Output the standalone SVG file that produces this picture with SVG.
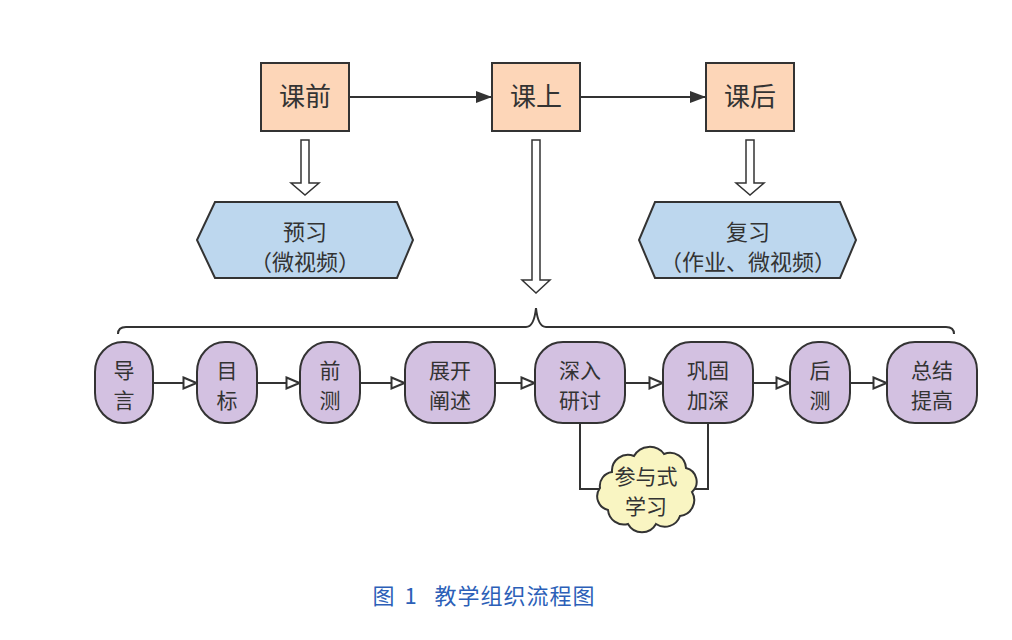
<svg xmlns="http://www.w3.org/2000/svg" width="1012" height="640" viewBox="0 0 1012 640">
<defs>
<style>
text{font-family:"Noto Sans CJK SC","Noto Sans",sans-serif;fill:#333;text-anchor:middle}
.top rect{fill:#fdd6b8;stroke:#333;stroke-width:2}
.top text{font-size:26px}
.hex polygon{fill:#bdd7ee;stroke:#333;stroke-width:2}
.hex text{font-size:22px}
.step rect{fill:#d3c1e1;stroke:#333;stroke-width:2}
.step text{font-size:21px}
.line{fill:none;stroke:#333;stroke-width:2}
.hollow{fill:#fff;stroke:#333;stroke-width:1.5}
</style>
<marker id="fa" viewBox="0 0 16 12" refX="16" refY="6" markerWidth="16" markerHeight="12" markerUnits="userSpaceOnUse" orient="auto"><path d="M0,0 L16,6 L0,12 Z" fill="#333"/></marker>
<marker id="oa" viewBox="0 0 16 14" refX="15" refY="7" markerWidth="16" markerHeight="14" markerUnits="userSpaceOnUse" orient="auto"><path d="M1.5,1.5 L14.5,7 L1.5,12.5 Z" fill="#fff" stroke="#333" stroke-width="2"/></marker>
</defs>
<rect width="1012" height="640" fill="#fff"/>

<g id="connectors">
<line class="line" x1="349" y1="97" x2="492" y2="97" marker-end="url(#fa)"/>
<line class="line" x1="580" y1="97" x2="706" y2="97" marker-end="url(#fa)"/>
<path class="hollow" d="M301,140 H309 V183 H319 L305,195 L291,183 H301 Z"/>
<path class="hollow" d="M532,140 H540 V280 H550 L536,293 L522,280 H532 Z"/>
<path class="hollow" d="M746,140 H754 V183 H764 L750,195 L736,183 H746 Z"/>
<path class="line" d="M118,334 Q118,327 126,327 H526 Q534,327 536,308 Q538,327 546,327 H946 Q954,327 954,334"/>
<line class="line" x1="153" y1="383" x2="197" y2="383" marker-end="url(#oa)"/>
<line class="line" x1="257" y1="383" x2="300" y2="383" marker-end="url(#oa)"/>
<line class="line" x1="360" y1="383" x2="405" y2="383" marker-end="url(#oa)"/>
<line class="line" x1="495" y1="383" x2="535" y2="383" marker-end="url(#oa)"/>
<line class="line" x1="625" y1="383" x2="663" y2="383" marker-end="url(#oa)"/>
<line class="line" x1="753" y1="383" x2="790" y2="383" marker-end="url(#oa)"/>
<line class="line" x1="850" y1="383" x2="887" y2="383" marker-end="url(#oa)"/>
<path class="line" d="M580,423 V489 H602"/>
<path class="line" d="M708,423 V489 H690"/>
</g>

<g id="n-kq" class="top"><rect x="261" y="63" width="88" height="68"/><text x="305" y="106">课前</text></g>
<g id="n-ks" class="top"><rect x="492" y="63" width="88" height="68"/><text x="536" y="106">课上</text></g>
<g id="n-kh" class="top"><rect x="706" y="63" width="88" height="68"/><text x="750" y="106">课后</text></g>

<g id="n-yx" class="hex"><polygon points="215,202 397,202 413,240 397,278 215,278 197,240"/><text x="305" y="240">预习</text><text x="305" y="270">（微视频）</text></g>
<g id="n-fx" class="hex"><polygon points="655,202 840,202 856,240 840,278 655,278 639,240"/><text x="748" y="240">复习</text><text x="748" y="270">（作业、微视频）</text></g>

<g id="n1" class="step"><rect x="95" y="342" width="58" height="81" rx="28" ry="30"/><text x="124" y="378">导</text><text x="124" y="408">言</text></g>
<g id="n2" class="step"><rect x="197" y="342" width="60" height="81" rx="28" ry="30"/><text x="227" y="378">目</text><text x="227" y="408">标</text></g>
<g id="n3" class="step"><rect x="300" y="342" width="60" height="81" rx="28" ry="30"/><text x="330" y="378">前</text><text x="330" y="408">测</text></g>
<g id="n4" class="step"><rect x="405" y="342" width="90" height="81" rx="28" ry="28"/><text x="450" y="378">展开</text><text x="450" y="408">阐述</text></g>
<g id="n5" class="step"><rect x="535" y="342" width="90" height="81" rx="28" ry="28"/><text x="580" y="378">深入</text><text x="580" y="408">研讨</text></g>
<g id="n6" class="step"><rect x="663" y="342" width="90" height="81" rx="28" ry="28"/><text x="708" y="378">巩固</text><text x="708" y="408">加深</text></g>
<g id="n7" class="step"><rect x="790" y="342" width="60" height="81" rx="28" ry="30"/><text x="820" y="378">后</text><text x="820" y="408">测</text></g>
<g id="n8" class="step"><rect x="887" y="342" width="90" height="81" rx="28" ry="28"/><text x="932" y="378">总结</text><text x="932" y="408">提高</text></g>

<g id="n-cloud"><path d="M612,472 a16,16 0 0 1 22,-16 a18,18 0 0 1 30,-2 a16,16 0 0 1 22,14 a14,14 0 0 1 6,24 a16,16 0 0 1 -12,24 a16,16 0 0 1 -24,8 a16,16 0 0 1 -28,0 a16,16 0 0 1 -20,-14 a14,14 0 0 1 -8,-22 a14,14 0 0 1 12,-16 Z" fill="#f9f5c2" stroke="#333" stroke-width="2"/><text x="646" y="484" style="font-size:21px">参与式</text><text x="646" y="514" style="font-size:21px">学习</text></g>

<text x="485" y="604" style="font-size:22px;fill:#2c5fb8;letter-spacing:1px"><tspan x="384">图</tspan><tspan x="411">1</tspan><tspan x="515">教学组织流程图</tspan></text>
</svg>
